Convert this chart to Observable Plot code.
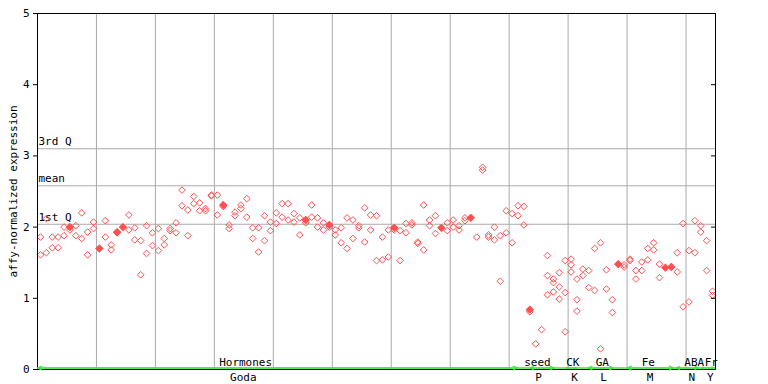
<!DOCTYPE html>
<html><head><meta charset="utf-8">
<script src="https://cdn.jsdelivr.net/npm/d3@7"></script>
<script src="https://cdn.jsdelivr.net/npm/@observablehq/plot@0.6"></script>
<style>body{margin:0;background:#fff}</style>
</head><body><div id="chart"></div>
<script>
// sample column index (0..114) and affy-normalized expression value of each point
const sampleIdx = [
 0,0, 1,1, 2,2, 3,3, 4,4, 5,5, 6,6, 7,7, 8,8, 9,9, 10, 11,11, 12,12, 13,13, 14, 15,15, 16,16, 17,17, 18,18, 19,19,
 20,20, 21,21, 22,22, 23,23, 24,24, 25,25, 26,26, 27,27, 28,28, 29,29, 30,30, 31,31, 32,32, 33,33, 34,34, 35,35,
 36,36, 37,37, 38,38, 39,39, 40,40, 41,41, 42,42, 43,43, 44,44, 45,45, 46,46, 47,47, 48,48, 49,49, 50,50, 51,51,
 52,52, 53,53, 54,54, 55,55, 56,56, 57,57, 58,58, 59,59, 60,60, 61,61, 62,62, 63,63, 64,64, 65,65, 66,66, 67,67,
 68, 69,69, 70,70, 71,71, 72,72, 73, 74, 75,75, 76,76, 77,77, 78,78, 79,79, 80,80, 81,81, 82,82, 83,83, 84, 85,
 86,86,86, 87,87,87, 88,88,88, 89,89,89, 90,90,90, 91,91,91, 92,92, 93,93, 94,94, 95,95, 96,96, 97,97, 98,
 99,99, 100,100, 101,101, 102,102, 103,103, 104,104, 105,105, 106, 107, 108,108, 109,109, 110,110, 111,111,
 112,112, 113,113, 114,114
];
const expression = [
 1.86,1.61, 2.12,1.64, 1.86,1.71, 1.86,1.71, 2.00,1.88, 2.00,1.96, 2.02,1.88, 2.20,1.84, 1.93,1.61, 2.07,1.98, 1.70, 2.09,1.86, 1.75,1.68, 1.93,1.92, 2.00, 2.17,1.96, 1.99,1.82, 1.81,1.33, 2.02,1.63, 1.92,1.74,
 1.98,1.67, 1.84,1.75, 1.98,1.95, 2.06,1.92, 2.52,2.30, 2.24,1.88, 2.43,2.33, 2.34,2.23, 2.26,2.23, 2.45,2.44, 2.45,2.17, 2.31,2.29, 2.03,1.98, 2.21,2.16, 2.31,2.26, 2.40,2.14,
 1.99,1.84, 1.99,1.65, 2.16,1.81, 2.07,1.95, 2.20,2.05, 2.33,2.14, 2.33,2.10, 2.19,2.07, 2.13,1.89, 2.10,2.06, 2.31,2.14, 2.13,2.00, 2.06,1.96, 2.03,2.00, 1.96,1.89, 1.99,1.78,
 2.13,1.70, 2.10,1.84, 2.02,1.99, 2.27,1.79, 2.17,1.96, 2.16,1.53, 1.86,1.54, 1.96,1.58, 1.99,1.96, 1.95,1.53, 2.05,1.92, 2.06,2.03, 1.79,1.77, 2.31,1.68, 2.10,2.02, 2.16,1.91,
 1.99, 2.06,1.95, 2.10,2.00, 2.02,1.96, 2.13,2.09, 2.13, 1.86, 2.84,2.80, 1.89,1.86, 2.00,1.82, 1.88,1.24, 2.23,1.92, 2.19,1.78, 2.30,2.16, 2.29,2.03, 0.84,0.81, 0.36, 0.56,
 1.60,1.32,1.05, 1.27,1.22,1.09, 1.36,1.16,0.99, 1.53,1.08,0.53, 1.55,1.47,1.37, 1.27,0.98,0.82, 1.41,1.32, 1.39,1.15, 1.70,1.11, 1.78,0.29, 1.40,1.13, 0.98,0.80, 1.48,
 1.47,1.44, 1.55,1.53, 1.39,1.27, 1.51,1.39, 1.70,1.54, 1.78,1.68, 1.48,1.29, 1.43, 1.44, 1.64,1.37, 2.05,0.88, 1.67,0.95, 2.09,1.64,
 2.02,1.93, 1.81,1.39, 1.10,1.04
];
// points drawn with a solid marker
const filledIdx = [5, 10, 13, 14, 31, 45, 49, 60, 68, 73, 83, 98, 106, 107];
const filledVal = [2.00, 1.70, 1.93, 2.00, 2.31, 2.10, 2.03, 1.99, 1.99, 2.13, 0.84, 1.48, 1.43, 1.44];

// summary lines
const statNames = ["3rd Q", "mean", "1st Q"];
const statValues = [3.10, 2.58, 2.04];

// tick values
const yTicks = [0, 1, 2, 3, 4, 5];
const gridX = [10, 20, 30, 40, 50, 60, 70, 80, 90, 100, 110];

// category labels along the x axis
const groupNames = ["Hormones", "seed", "CK", "GA", "Fe", "ABA", "Fr"];
const groupCenters = [35.3, 84.8, 90.8, 95.8, 103.6, 111.4, 114.3];
const subNames = ["Goda", "P", "K", "L", "M", "N", "Y"];
const subCenters = [34.9, 85.0, 91.1, 96.0, 103.9, 111.0, 114.1];
const segStart = [0, 83.5, 89.7, 93.4, 100, 108.3, 112.6];
const segEnd = [81.4, 87.6, 91.5, 97.7, 107.9, 112.1, 114.7];

const RED = "#ff5050";
const GREEN = "#33ee33";
const FONT = "DejaVu Sans Mono";

const points = sampleIdx.map((s, k) => ({x: s + 0.5, y: expression[k]}));
const filled = filledIdx.map((s, k) => ({x: s + 0.5, y: filledVal[k]}));
const stats = statNames.map((n, k) => ({name: n, v: statValues[k]}));
const groups = groupNames.map((n, k) => ({name: n, x: groupCenters[k]}));
const subs = subNames.map((n, k) => ({name: n, x: subCenters[k]}));
const arrows = [];
segStart.forEach((s, k) => {
  const m = (s + segEnd[k]) / 2;
  arrows.push({x1: m, x2: s}, {x1: m, x2: segEnd[k]});
});

const chart = Plot.plot({
  width: 768, height: 384,
  marginLeft: 37, marginRight: 53, marginTop: 13, marginBottom: 15,
  style: {fontFamily: FONT, fontSize: "11px", background: "#fff", color: "black"},
  x: {domain: [0, 115], axis: null},
  y: {domain: [0, 5], axis: null},
  marks: [
    Plot.ruleX(gridX, {stroke: "#aaaaaa", strokeOpacity: 1, strokeWidth: 1}),
    Plot.ruleY(stats, {y: "v", stroke: "#aaaaaa", strokeOpacity: 1, strokeWidth: 1}),
    Plot.text(stats, {x: () => 0, y: "v", text: "name", textAnchor: "start", dx: 1, dy: -7, fontSize: 11, fill: "black"}),
    Plot.dot(points, {x: "x", y: "y", symbol: "diamond2", r: 3, stroke: RED, strokeWidth: 1, fill: "none"}),
    Plot.dot(filled, {x: "x", y: "y", symbol: "diamond2", r: 2.8, fill: RED, stroke: RED}),
    Plot.text(groups, {x: "x", y: () => 0, text: "name", dy: -7, fontSize: 11, fill: "black"}),
    Plot.text(subs, {x: "x", y: () => 0, text: "name", dy: 8, fontSize: 11, fill: "black"}),
    Plot.frame({stroke: "black", strokeWidth: 1}),
    Plot.ruleY([0], {stroke: GREEN, strokeWidth: 1.5, dy: -1.5}),
    Plot.arrow(arrows, {x1: "x1", x2: "x2", y1: () => 0, y2: () => 0, stroke: GREEN, strokeWidth: 1.2, headLength: 6, headAngle: 50, dy: -1.5, insetEnd: 0, insetStart: 0}),
    Plot.axisY({ticks: yTicks, tickSize: 4, tickPadding: 4, tickFormat: d3.format("d"), fontSize: 11,
      label: "affy-normalized expression", labelAnchor: "center", labelArrow: "none", labelOffset: 28}),
    Plot.axisY({anchor: "right", ticks: yTicks, tickSize: -5, tickFormat: () => "", label: null})
  ]
});
document.getElementById("chart").appendChild(chart);
</script>
</body></html>
